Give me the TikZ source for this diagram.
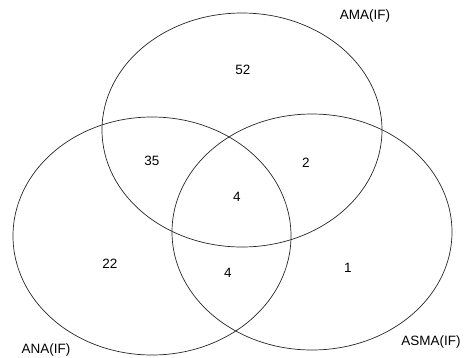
\documentclass[tikz,border=0pt]{standalone}
\usepackage{fontspec}
\setmainfont{Liberation Sans}
\begin{document}
\begin{tikzpicture}[x=1pt,y=-1pt,
  setline/.style={draw=black!85,line width=0.7pt},
  lbl/.style={font=\fontsize{13.5}{14}\selectfont,inner sep=0pt}]
\useasboundingbox (0,0) rectangle (475,357);
\draw[setline] (242,130) ellipse [x radius=140, y radius=117];
\draw[setline] (152,236) ellipse [x radius=139, y radius=119];
\draw[setline] (312,232) ellipse [x radius=140, y radius=118];
\node[lbl] (ama) at (365,16) {AMA(IF)};
\node[lbl] (ana) at (46,350) {ANA(IF)};
\node[lbl] (asma) at (431,342) {ASMA(IF)};
\node[lbl] (n52) at (243,70) {52};
\node[lbl] (n35) at (152,161) {35};
\node[lbl] (n2) at (306,163) {2};
\node[lbl] (n4a) at (237,197) {4};
\node[lbl] (n22) at (110,264) {22};
\node[lbl] (n4b) at (228,273) {4};
\node[lbl] (n1) at (348,268) {1};
\end{tikzpicture}
\end{document}
